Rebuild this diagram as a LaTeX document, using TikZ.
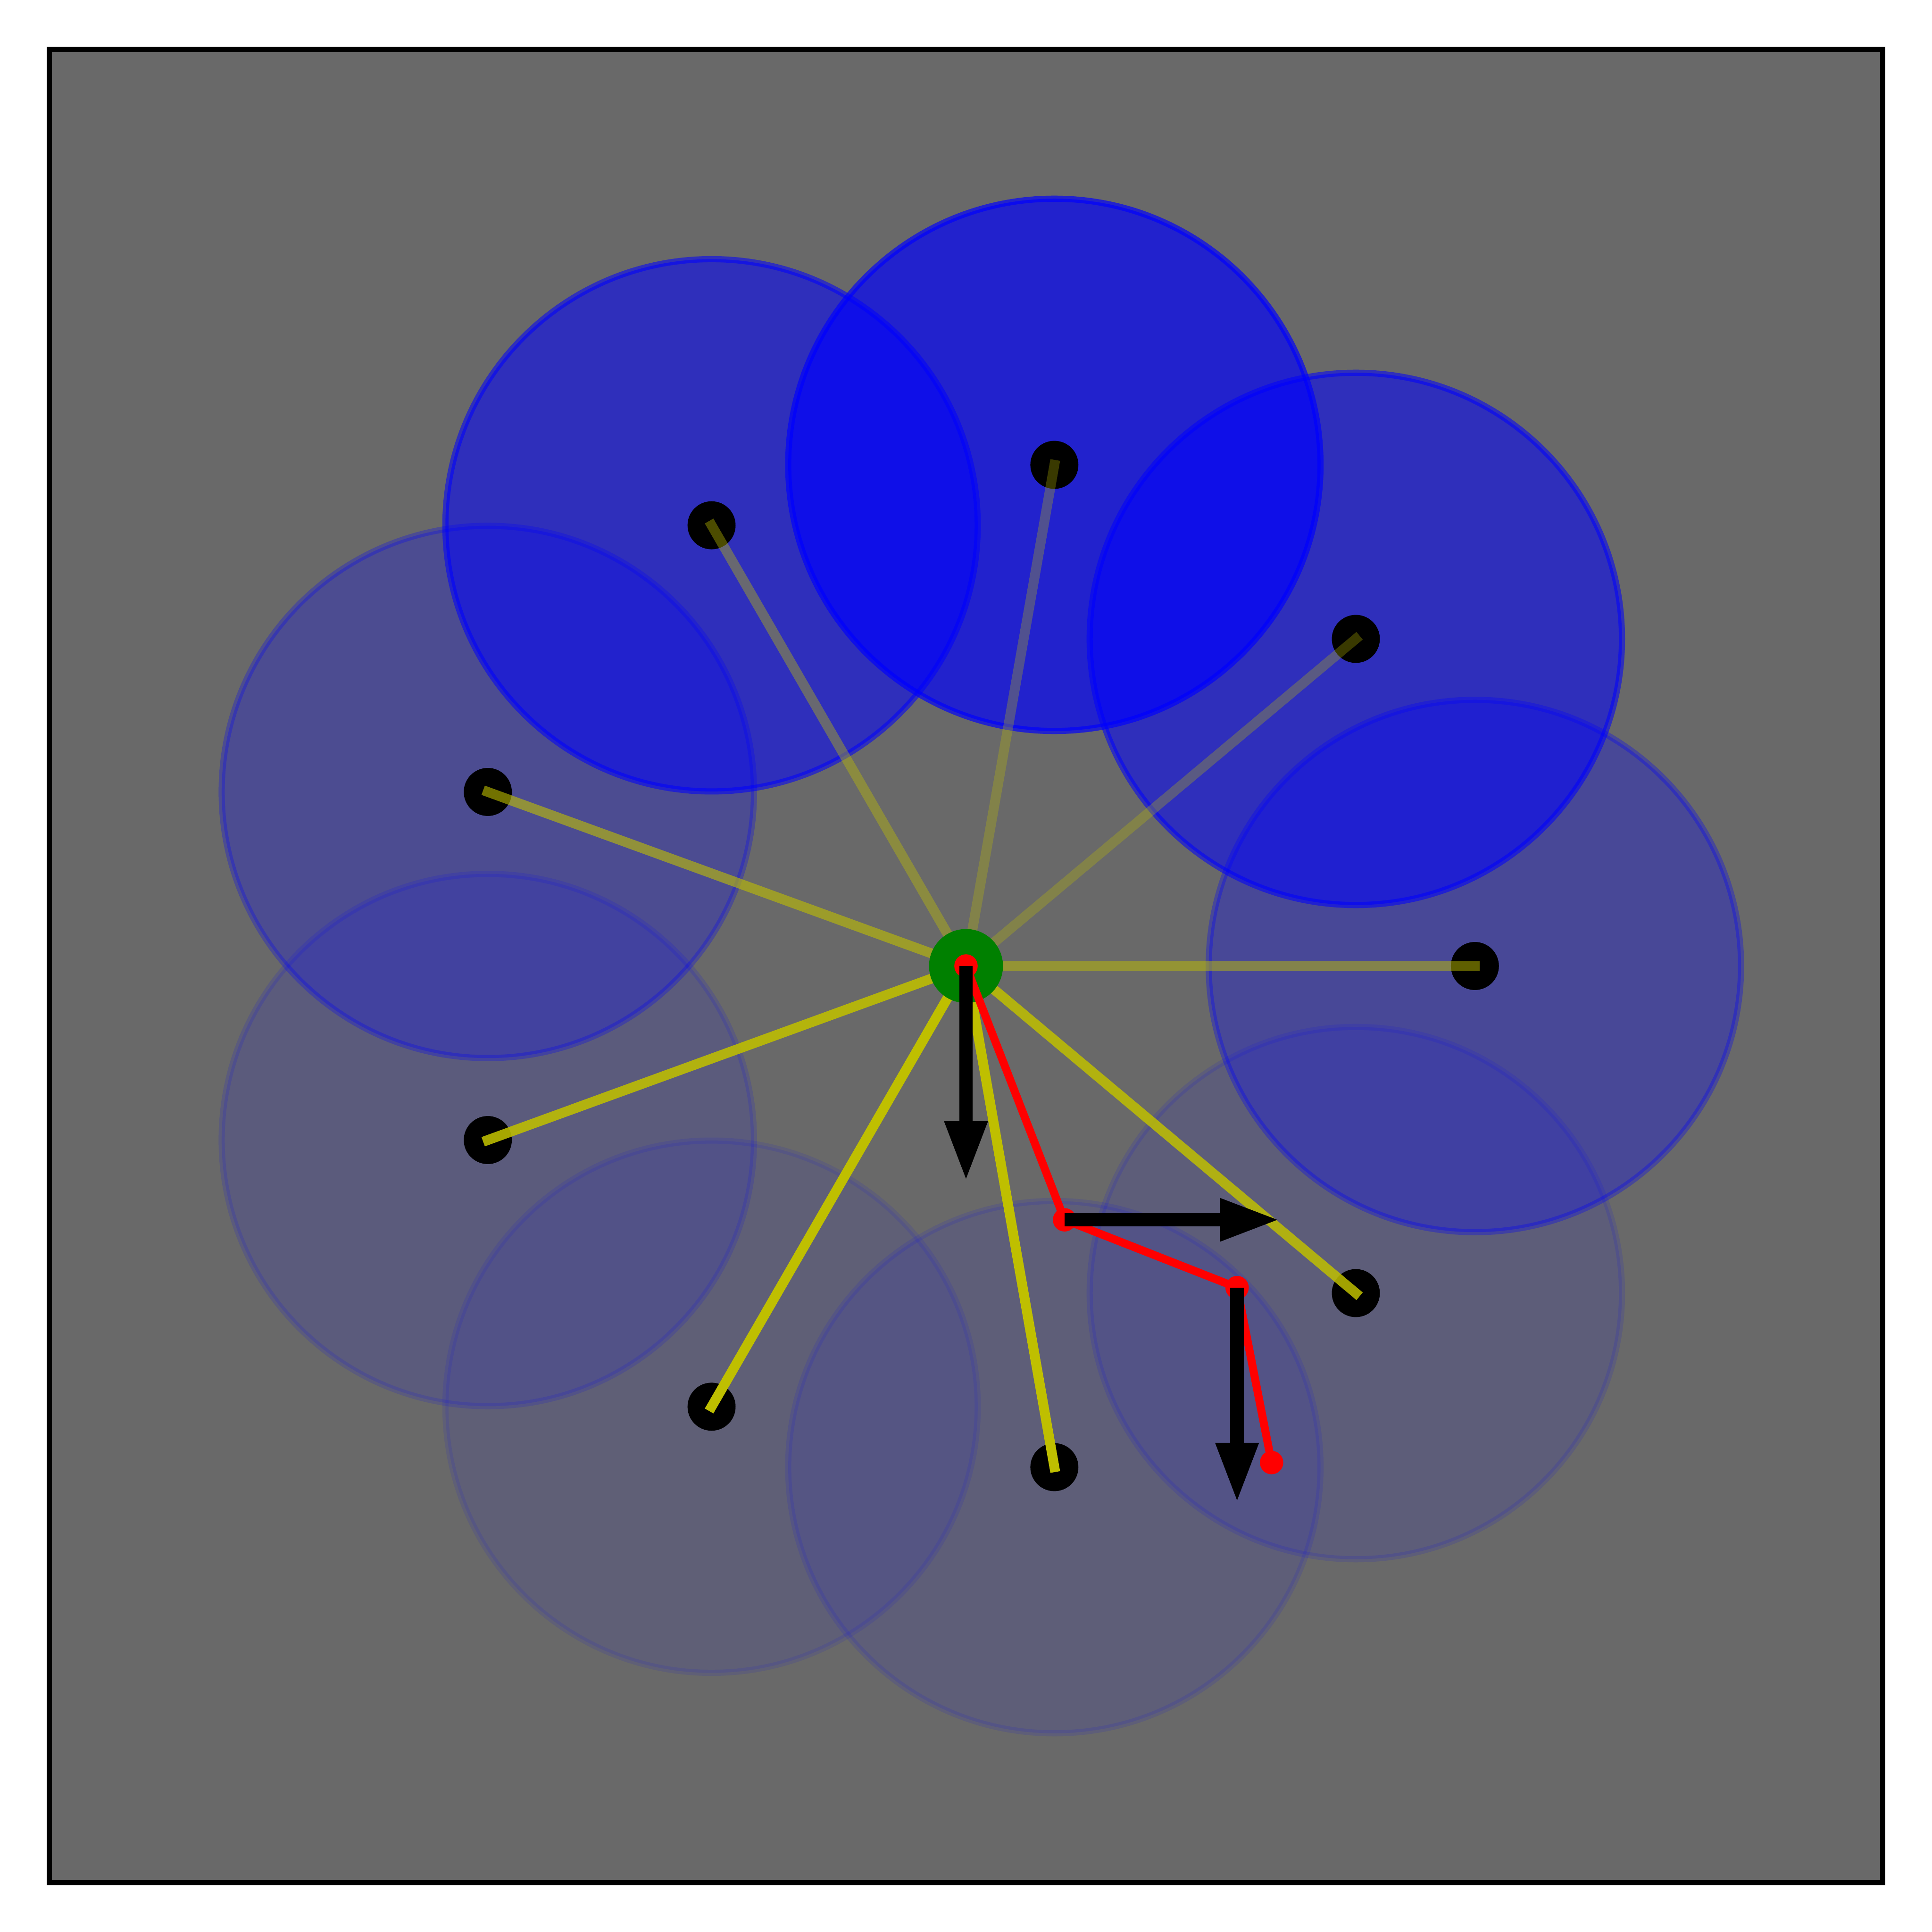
\documentclass[tikz,border=0pt]{standalone}
\usepackage{tikz}
\usetikzlibrary{arrows.meta}
\definecolor{mplyellow}{RGB}{191,191,0}
\definecolor{mplgreen}{RGB}{0,128,0}
\definecolor{mplgray}{RGB}{105,105,105}

\begin{document}
\begin{tikzpicture}[
  particle/.style={circle, minimum size=4.32cm, inner sep=0pt, fill=blue, draw=blue, line width=0.05cm},
  landmark/.style={circle, minimum size=0.39cm, inner sep=0pt, fill=black},
  ray/.style={mplyellow, line width=0.08cm, line cap=rect},
  hub/.style={circle, minimum size=0.6cm, inner sep=0pt, fill=mplgreen},
  joint/.style={circle, minimum size=0.19cm, inner sep=0pt, fill=red},
  link/.style={red, line width=0.065cm, line cap=rect},
  force/.style={line width=0.11cm, -{Triangle[width=0.32cm,length=0.49cm]}}]
  \fill[white] (-7.84,-7.84) rectangle (7.84,7.84);
  \useasboundingbox (-7.84,-7.84) rectangle (7.84,7.84);
  \draw[fill=mplgray, line width=0.045cm] (-7.44,-7.44) rectangle (7.44,7.44);
  \coordinate (base) at (0,0);
  % weighted samples
  \foreach \a/\w in {0/0.31, 40/0.55, 80/0.67, 120/0.55, 160/0.27,
                     200/0.13, 240/0.09, 280/0.1, 320/0.11}
    \node[particle, opacity=\w] (s\a) at (\a:4.13) {};
  \foreach \a in {0,40,...,320}
    \node[landmark] (p\a) at (\a:4.13) {};
  \foreach \a/\l in {0/0.5, 40/0.3, 80/0.3, 120/0.4, 160/0.6,
                     200/0.88, 240/1, 280/1, 320/0.85}
    \draw[ray, opacity=\l] (base) -- (p\a.center);
  \node[hub] (hubdisc) at (base) {};
  % arm
  \node[joint] (j0) at (base) {};
  \node[joint] (j1) at (0.80,-2.06) {};
  \node[joint] (j2) at (2.20,-2.61) {};
  \node[joint] (j3) at (2.48,-4.03) {};
  \draw[link] (j0.center) -- (j1.center) -- (j2.center) -- (j3.center);
  \coordinate (f0) at ([yshift=-1.75cm]j0.center);
  \coordinate (f1) at ([xshift=1.75cm]j1.center);
  \coordinate (f2) at ([yshift=-1.75cm]j2.center);
  \draw[force] (j0.center) -- (f0);
  \draw[force] (j1.center) -- (f1);
  \draw[force] (j2.center) -- (f2);
\end{tikzpicture}
\end{document}
